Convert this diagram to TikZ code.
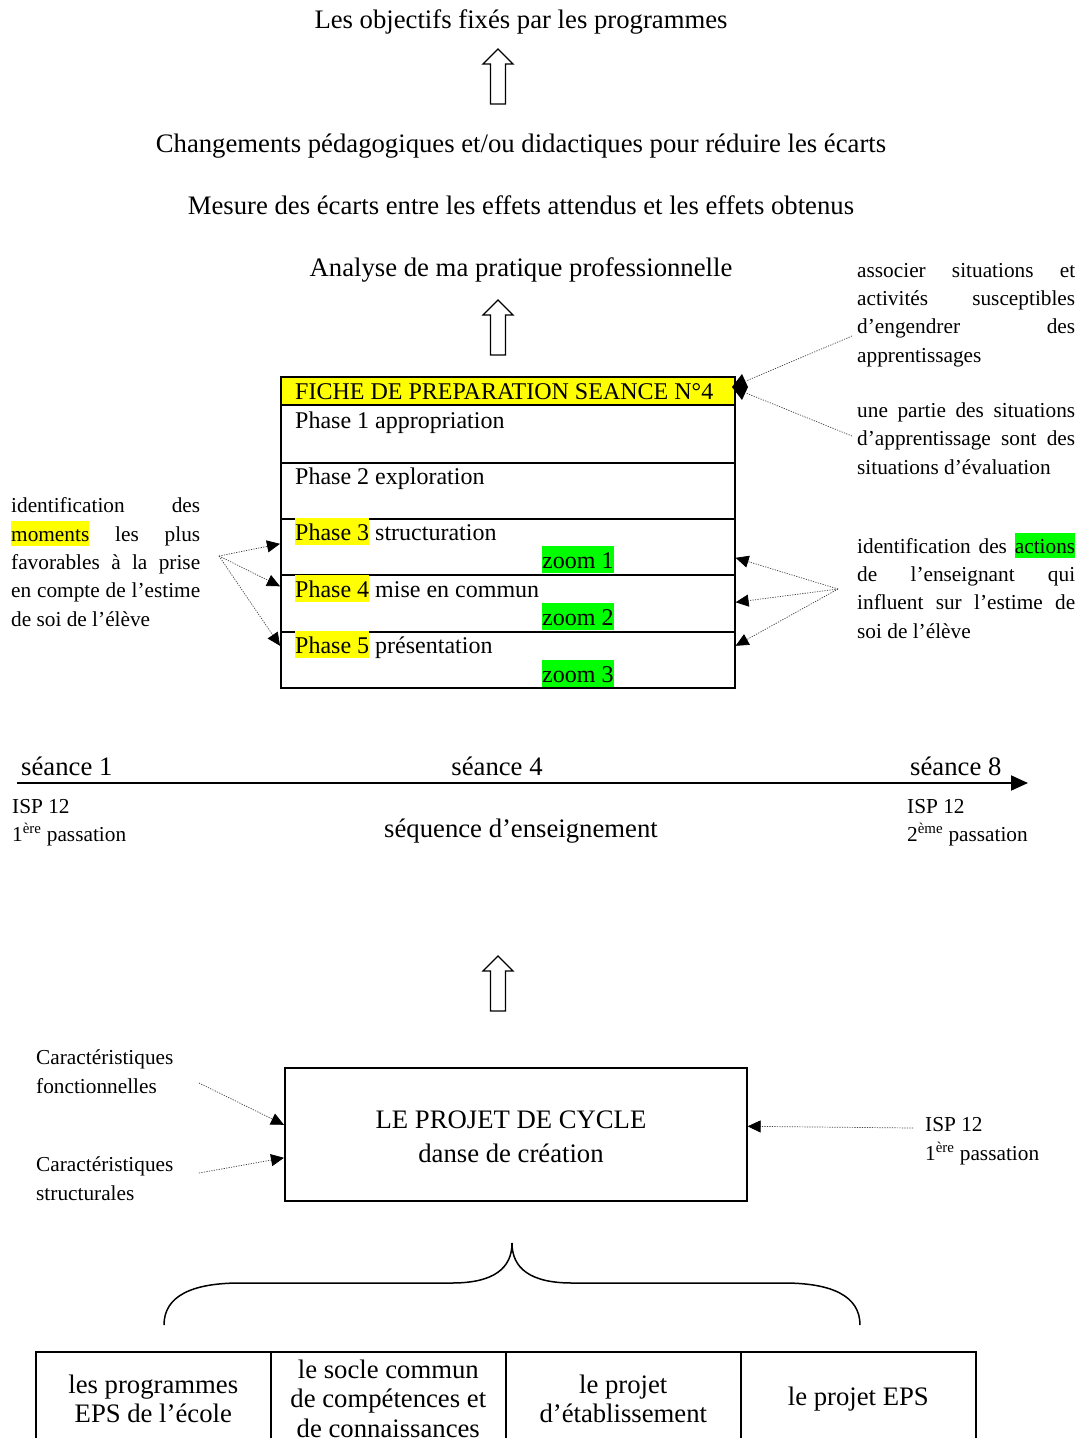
\documentclass[tikz,border=0pt]{standalone}
\usepackage{fontspec}
\setmainfont{Liberation Serif}
\usetikzlibrary{arrows.meta,calc}
\newcommand\mainf{\fontsize{26.7}{29.5}\selectfont}
\newcommand\smallf{\fontsize{21.3}{28.3}\selectfont}
\newcommand\tabf{\fontsize{24}{28}\selectfont}
\definecolor{hlyel}{RGB}{255,255,0}
\definecolor{hlgrn}{RGB}{0,255,0}
\newcommand\hlt[2]{{\setlength\fboxsep{0pt}\colorbox{#1}{\rule[-0.22em]{0pt}{1.15em}#2}}}
\newcommand\jl[2]{\makebox[#1pt][s]{#2}}
\tikzset{
  hollowup/.pic={\draw[line width=1.3pt, fill=white] (0,0) -- (15,15) -- (7.5,15) -- (7.5,55) -- (-7.5,55) -- (-7.5,15) -- (-15,15) -- cycle;},
  maintxt/.style={inner sep=0pt, font=\mainf, anchor=base},
  smalltxt/.style={inner sep=0pt, font=\smallf, anchor=base west, align=left},
  tabtxt/.style={inner sep=0pt, font=\tabf, anchor=base west},
  rowbox/.style={draw, line width=1.6pt, minimum width=454pt, anchor=north west, inner sep=0pt},
  cellbox/.style={draw, line width=1.6pt, minimum width=235pt, minimum height=94pt, anchor=north west, inner sep=0pt, font=\mainf, align=center},
  note/.style={dash pattern=on 1.2pt off 1.3pt, line width=0.7pt, draw=black!75, -{Triangle[length=13pt,width=12pt,color=black]}},
  noteplain/.style={dash pattern=on 1.2pt off 1.3pt, line width=0.7pt, draw=black!75}
}
\begin{document}
\begin{tikzpicture}[x=1pt,y=-1pt]
\useasboundingbox[fill=white] (0,0) rectangle (1082,1438);

% headings
\node[maintxt] (obj) at (521,28) {Les objectifs fixés par les programmes};
\pic at (498,49) {hollowup};
\node[maintxt] (chg) at (521,152) {Changements pédagogiques et/ou didactiques pour réduire les écarts};
\node[maintxt] (mes) at (521,214) {Mesure des écarts entre les effets attendus et les effets obtenus};
\node[maintxt] (ana) at (521,276) {Analyse de ma pratique professionnelle};
\pic at (498,300) {hollowup};

% fiche table
\node[rowbox, fill=hlyel, minimum height=28pt] (hdr) at (280,376) {};
\node[rowbox, minimum height=58pt] (r1) at (280,404) {};
\node[rowbox, minimum height=56pt] (r2) at (280,462) {};
\node[rowbox, minimum height=56pt] (r3) at (280,518) {};
\node[rowbox, minimum height=57pt] (r4) at (280,574) {};
\node[rowbox, minimum height=56pt] (r5) at (280,631) {};
\node[tabtxt] (hdrt) at (295,399) {FICHE DE PREPARATION SEANCE N°4};
\node[tabtxt] (p1) at (295,428) {Phase 1 appropriation};
\node[tabtxt] (p2) at (295,484) {Phase 2 exploration};
\node[tabtxt] (p3) at (295,540) {\hlt{hlyel}{Phase 3} structuration};
\node[tabtxt] (z1) at (542,568) {\hlt{hlgrn}{zoom 1}};
\node[tabtxt] (p4) at (295,597) {\hlt{hlyel}{Phase 4} mise en commun};
\node[tabtxt] (z2) at (542,625) {\hlt{hlgrn}{zoom 2}};
\node[tabtxt] (p5) at (295,653) {\hlt{hlyel}{Phase 5} présentation};
\node[tabtxt] (z3) at (542,682) {\hlt{hlgrn}{zoom 3}};

% diamond
\fill (732,387) -- (742,374) -- (748,387) -- (742,400) -- cycle;
\coordinate (dmdA) at (746,381);
\coordinate (dmdB) at (746,393);

% right notes (anchor = baseline of last line)
\node[smalltxt] (rt1) at (857,362) {\jl{218}{associer situations et}\\ \jl{218}{activités susceptibles}\\ \jl{218}{d’engendrer des}\\ apprentissages};
\node[smalltxt] (rt2) at (857,474) {\jl{218}{une partie des situations}\\ \jl{218}{d’apprentissage sont des}\\ situations d’évaluation};
\node[smalltxt] (rt3) at (857,638) {\jl{218}{identification des \hlt{hlgrn}{actions}}\\ \jl{218}{de l’enseignant qui}\\ \jl{218}{influent sur l’estime de}\\ soi de l’élève};
\coordinate (a1) at (852,336);
\coordinate (a2) at (852,436);
\draw[noteplain] (a1) -- (dmdA);
\draw[noteplain] (a2) -- (dmdB);
\coordinate (rsrc) at (838,589);
\draw[note] (rsrc) -- ([yshift=-11pt]r3.east);
\draw[note] (rsrc) -- ([yshift=1pt]r4.east);
\draw[note] (rsrc) -- ([yshift=14pt]r5.east);

% left note
\node[smalltxt] (lt) at (11,626) {\jl{189}{identification des}\\ \jl{189}{\hlt{hlyel}{moments} les plus}\\ \jl{189}{favorables à la prise}\\ \jl{189}{en compte de l’estime}\\ de soi de l’élève};
\coordinate (lsrc) at (219,556);
\draw[note] (lsrc) -- ([yshift=3pt]r3.west);
\draw[note] (lsrc) -- ([yshift=17pt]r4.west);
\draw[note] (lsrc) -- ([yshift=14pt]r5.west);

% timeline
\coordinate (tl0) at (17,783);
\coordinate (tl1) at (1028,783);
\draw[line width=2pt, -{Triangle[length=17pt,width=15pt]}] (tl0) -- (tl1);
\node[maintxt, anchor=base west] (s1) at (21,775) {séance 1};
\node[maintxt] (s4) at (497,775) {séance 4};
\node[maintxt, anchor=base west] (s8) at (910,775) {séance 8};
\node[smalltxt] (isp1) at (12,841.5) {ISP 12\\1\textsuperscript{ère} passation};
\node[maintxt] (seq) at (521,837) {séquence d’enseignement};
\node[smalltxt] (isp2) at (907,841.5) {ISP 12\\2\textsuperscript{ème} passation};
\pic at (498,956) {hollowup};

% projet de cycle
\node[draw, line width=1.6pt, minimum width=462pt, minimum height=133pt, anchor=north west, inner sep=0pt] (cyc) at (284,1067) {};
\node[maintxt] (cyc1) at (511,1128) {LE PROJET DE CYCLE};
\node[maintxt] (cyc2) at (511,1162) {danse de création};
\node[smalltxt] (cf) at (36,1093) {Caractéristiques\\[0.7pt]fonctionnelles};
\node[smalltxt] (cs) at (36,1200) {Caractéristiques\\[0.7pt]structurales};
\node[smalltxt] (isp3) at (925,1160) {ISP 12\\[0.7pt]1\textsuperscript{ère} passation};
\coordinate (cfs) at (199,1083);
\coordinate (css) at (199,1173);
\coordinate (isps) at (913,1128);
\draw[note] (cfs) -- ([yshift=9.5pt]cyc.west);
\draw[note] (css) -- ([yshift=-23.5pt]cyc.west);
\draw[note] (isps) -- ([yshift=8pt]cyc.east);

% brace
\draw[line width=1.5pt] (164,1325) .. controls (164,1296) and (192,1283) .. (240,1283) -- (452,1283) .. controls (494,1283) and (512,1268) .. (512,1243) .. controls (512,1268) and (530,1283) .. (572,1283) -- (784,1283) .. controls (832,1283) and (860,1296) .. (860,1325);

% bottom table
\node[cellbox] (c1) at (35,1351) {les programmes\\EPS de l’école};
\node[cellbox] (c2) at (270,1351) {le socle commun\\de compétences et\\de connaissances};
\node[cellbox] (c3) at (505,1351) {le projet\\d’établissement};
\node[cellbox] (c4) at (740,1351) {le projet EPS};
\end{tikzpicture}
\end{document}
